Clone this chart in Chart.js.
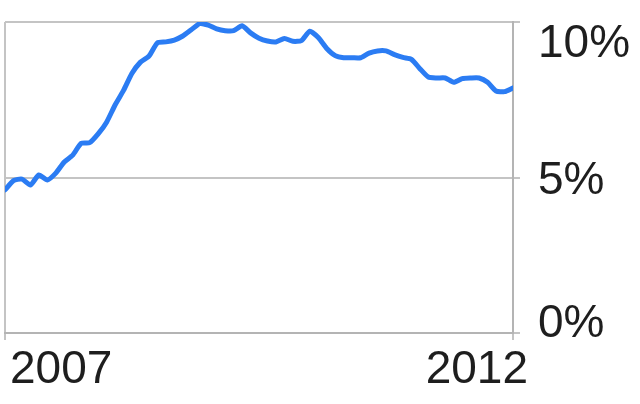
<!DOCTYPE html>
<html>
<head>
<meta charset="utf-8">
<script src="https://cdn.jsdelivr.net/npm/chart.js@4/dist/chart.umd.min.js"></script>
<style>
  html, body { margin: 0; padding: 0; background: #fff; }
  #chart { display: block; }
</style>
</head>
<body>
<canvas id="chart" width="640" height="404"></canvas>
<script>
// monthly rate (%), Jan 2007 .. Jan 2012
const rates = [
  4.6, 4.9, 4.95, 4.76, 5.08, 4.92, 5.14, 5.5, 5.72, 6.1,
  6.12, 6.4, 6.78, 7.33, 7.8, 8.35, 8.71, 8.9, 9.33, 9.36,
  9.42, 9.55, 9.75, 9.95, 9.9, 9.78, 9.72, 9.72, 9.88, 9.65,
  9.48, 9.39, 9.36, 9.47, 9.38, 9.4, 9.7, 9.5, 9.15, 8.92,
  8.85, 8.85, 8.85, 9.0, 9.07, 9.07, 8.95, 8.86, 8.8, 8.5,
  8.23, 8.2, 8.2, 8.06, 8.18, 8.2, 8.2, 8.06, 7.78, 7.76,
  7.88
];
const yearTicks = [0, 60];
const yearLabels = ['2007', '2012'];
const yTicks = [0, 5, 10];
const yLabels = ['0%', '5%', '10%'];

const FONT = '46px "Liberation Sans", Arial, Helvetica, sans-serif';
const GRID = '#c4c4c4';

// draws the tick labels, nudged so they stay inside the plot's band
const clampedLabels = {
  id: 'clampedLabels',
  afterDraw(chart) {
    const { ctx, chartArea, scales } = chart;
    const cap = 33;
    ctx.save();
    ctx.font = FONT;
    ctx.fillStyle = '#1e1e1e';
    ctx.textBaseline = 'alphabetic';

    ctx.textAlign = 'left';
    yTicks.forEach((v, i) => {
      const py = scales.y.getPixelForValue(v);
      let base = py + cap / 2;
      base = Math.max(base, chartArea.top + cap + 2);
      base = Math.min(base, chartArea.bottom + 4);
      ctx.fillText(yLabels[i], chartArea.right + 25, base);
    });

    yearTicks.forEach((v, i) => {
      const px = scales.x.getPixelForValue(v);
      const w = ctx.measureText(yearLabels[i]).width;
      let left = px - w / 2;
      left = Math.max(left, chartArea.left + 5);
      left = Math.min(left, chartArea.right + 15 - w);
      ctx.fillText(yearLabels[i], left, chartArea.bottom + 50);
    });
    ctx.restore();
  }
};

new Chart(document.getElementById('chart'), {
  type: 'line',
  data: {
    labels: rates.map((_, i) => i),
    datasets: [{
      data: rates,
      borderColor: '#2b7cf3',
      borderWidth: 5,
      pointRadius: 0,
      tension: 0.2,
      borderJoinStyle: 'round',
      borderCapStyle: 'round',
      fill: false
    }]
  },
  options: {
    responsive: false,
    animation: false,
    devicePixelRatio: 1,
    layout: { padding: { left: 5, top: 22, right: 0, bottom: 0 } },
    plugins: { legend: { display: false }, tooltip: { enabled: false } },
    scales: {
      x: {
        type: 'linear',
        min: 0,
        max: rates.length - 1,
        afterBuildTicks: s => { s.ticks = yearTicks.map(v => ({ value: v })); },
        afterFit: s => { s.height = 71; },
        ticks: { display: false },
        grid: { color: GRID, lineWidth: 2, tickLength: 7, drawTicks: true },
        border: { color: '#b4b4b4', width: 2 }
      },
      y: {
        position: 'right',
        min: 0,
        max: 10,
        afterBuildTicks: s => { s.ticks = yTicks.map(v => ({ value: v })); },
        afterFit: s => { s.width = 127; },
        ticks: { display: false },
        grid: { color: GRID, lineWidth: 2, tickLength: 7, drawTicks: true },
        border: { color: '#b4b4b4', width: 2 }
      }
    }
  },
  plugins: [clampedLabels]
});
</script>
</body>
</html>
